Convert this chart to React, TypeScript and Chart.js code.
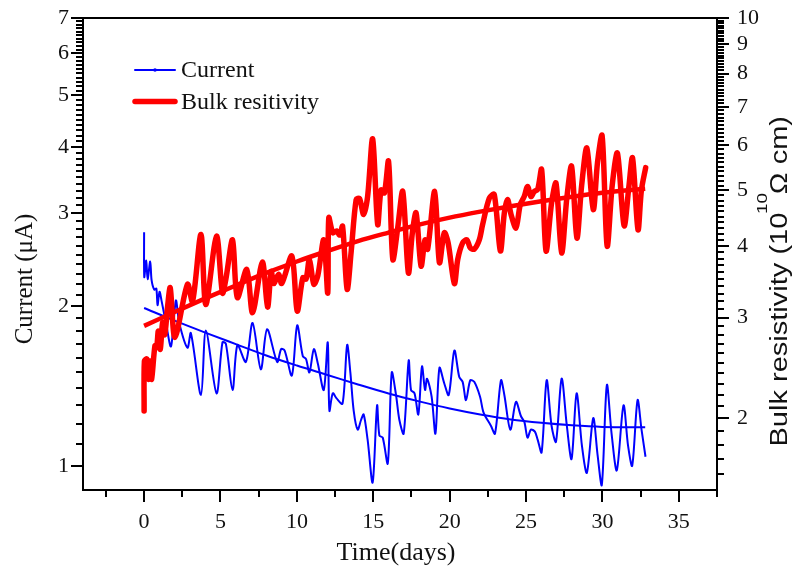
import React, { useEffect, useRef } from 'react';
import { Chart, registerables } from 'chart.js';

Chart.register(...registerables);

// ---- Data ----
const currentDays = [
  0, 0.01, 0.14, 0.23, 0.4, 0.49, 0.66, 0.8, 0.88, 1.01, 1.14, 1.43, 1.76, 2.08, 2.3, 2.84, 3.06, 3.72, 4.04, 4.74,
  5.13, 5.35, 5.79, 6.11, 6.66, 7.1, 7.64, 8.05, 8.71, 8.97, 9.2, 9.67, 10.02, 10.39, 10.6, 10.82, 11.11, 11.37, 11.76, 12.02,
  12.13, 12.35, 12.6, 12.99, 13.29, 13.5, 13.72, 13.98, 14.2, 14.37, 14.63, 14.96, 15.25, 15.4, 15.62, 15.95, 16.21, 16.49, 16.71, 16.99,
  17.32, 17.47, 17.7, 17.95, 18.19, 18.39, 18.52, 18.82, 19.07, 19.33, 19.65, 19.94, 20.31, 20.63, 20.85, 21.07, 21.35, 21.61, 21.99, 22.22,
  22.7, 22.97, 23.36, 23.58, 23.97, 24.34, 24.67, 24.89, 25.1, 25.32, 25.58, 25.76, 26.02, 26.35, 26.67, 26.96, 27.33, 27.67, 27.98, 28.31,
  28.66, 28.98, 29.4, 29.68, 29.96, 30.29, 30.6, 30.94, 31.38, 31.68, 31.95, 32.3, 32.56, 32.82,
];
const currentValues = [
  2.76, 2.27, 2.44, 2.25, 2.43, 2.24, 2.15, 2.16, 2.01, 2.13, 2.05, 1.86, 1.68, 2.05, 1.86, 1.67, 1.78, 1.36, 1.8, 1.37,
  1.71, 1.7, 1.39, 1.69, 1.57, 1.86, 1.52, 1.81, 1.57, 1.66, 1.65, 1.48, 1.84, 1.61, 1.59, 1.5, 1.66, 1.56, 1.39, 1.71,
  1.27, 1.37, 1.34, 1.31, 1.69, 1.5, 1.27, 1.17, 1.22, 1.25, 1.12, 0.93, 1.3, 1.14, 1.13, 1.01, 1.5, 1.36, 1.22, 1.15,
  1.58, 1.39, 1.37, 1.25, 1.54, 1.39, 1.46, 1.35, 1.15, 1.53, 1.43, 1.36, 1.65, 1.47, 1.44, 1.33, 1.45, 1.44, 1.35, 1.26,
  1.19, 1.15, 1.45, 1.36, 1.17, 1.32, 1.24, 1.21, 1.13, 1.17, 1.16, 1.12, 1.06, 1.45, 1.19, 1.11, 1.46, 1.19, 1.03, 1.37,
  1.09, 0.97, 1.23, 1.05, 0.92, 1.42, 1.15, 0.98, 1.3, 1.09, 1.0, 1.33, 1.17, 1.04,
];

const resistivityDays = [
  0, 0.02, 0.18, 0.29, 0.4, 0.49, 0.71, 0.82, 0.93, 1.06, 1.21, 1.35, 1.54, 1.71, 2.02, 2.84, 3.17, 3.72, 4.04, 4.74,
  5.13, 5.35, 5.79, 6.1, 6.72, 7.1, 7.74, 8.08, 8.32, 8.49, 8.8, 9.01, 9.67, 10.02, 10.39, 10.6, 10.82, 11.11, 11.37, 11.76,
  12.02, 12.09, 12.35, 12.6, 12.8, 12.99, 13.29, 13.55, 13.88, 14.1, 14.37, 14.63, 14.96, 15.29, 15.51, 15.73, 16.0, 16.28, 16.6, 16.93,
  17.3, 17.55, 17.8, 18.13, 18.39, 18.56, 19.02, 19.33, 19.65, 19.9, 20.31, 20.53, 20.85, 21.13, 21.35, 21.61, 21.94, 22.15, 22.6, 22.92,
  23.32, 23.58, 23.79, 24.01, 24.34, 24.62, 24.88, 25.1, 25.32, 25.54, 25.76, 26.02, 26.31, 26.67, 26.96, 27.33, 27.67, 27.98, 28.33, 28.64,
  28.98, 29.4, 29.68, 29.98, 30.31, 30.64, 30.98, 31.42, 31.74, 31.97, 32.33, 32.55, 32.83,
];
const resistivityValues = [
  2.06, 2.52, 2.54, 2.34, 2.52, 2.34, 2.68, 2.66, 2.84, 2.64, 2.94, 2.8, 3.14, 3.38, 2.77, 3.43, 3.2, 4.19, 3.16, 4.16,
  3.31, 3.5, 4.1, 3.25, 3.64, 3.06, 3.75, 3.13, 3.61, 3.44, 3.57, 3.44, 3.84, 3.08, 3.52, 3.5, 3.79, 3.43, 3.55, 4.1,
  3.31, 4.48, 4.22, 4.25, 4.18, 4.33, 3.36, 3.9, 4.82, 4.84, 4.54, 4.88, 6.15, 4.36, 5.01, 4.95, 5.62, 3.79, 4.3, 4.98,
  3.59, 4.2, 4.57, 3.69, 4.1, 3.95, 4.98, 3.74, 4.22, 4.05, 3.44, 3.79, 4.05, 4.1, 3.97, 3.95, 4.1, 4.35, 4.85, 4.92,
  3.92, 4.57, 4.82, 4.55, 4.3, 4.72, 4.88, 5.08, 4.88, 4.98, 5.02, 5.44, 3.92, 4.75, 5.15, 3.89, 4.85, 5.51, 4.13, 5.1,
  5.93, 4.63, 5.6, 6.23, 4.0, 5.1, 5.81, 4.34, 5.1, 5.7, 4.27, 5.0, 5.48,
];

const fitDays = [0, 2, 4, 6, 8, 10, 12, 14, 16, 18, 20, 22, 24, 26, 28, 30, 32.8];
const currentFit = [1.985, 1.879, 1.784, 1.697, 1.615, 1.546, 1.484, 1.424, 1.369, 1.323, 1.283, 1.25, 1.223, 1.205, 1.192, 1.184, 1.182];
const resistivityFit = [2.901, 3.068, 3.24, 3.413, 3.589, 3.758, 3.92, 4.08, 4.221, 4.359, 4.483, 4.592, 4.694, 4.789, 4.877, 4.955, 5.036];

const xTickLabels = [0, 5, 10, 15, 20, 25, 30, 35];
const leftTickLabels = [1, 2, 3, 4, 5, 6, 7];
const rightTickLabels = [2, 3, 4, 5, 6, 7, 8, 9, 10];

const legendLabels = ['Current', 'Bulk resitivity'];
const xTitle = 'Time(days)';
const leftTitle = 'Current (\u03bcA)';
const rightTitleParts = ['Bulk resistivity (10', '10', '\u03a9 cm)'];

const BLUE = '#0000ff';
const RED = '#ff0000';
const SERIF = '"Liberation Serif", "Times New Roman", serif';
const SANS = '"Liberation Sans", Arial, sans-serif';

const decorPlugin = {
  id: 'decor',
  afterDraw(chart: any) {
    const { ctx, chartArea: a, scales } = chart;
    const xs = scales.x;
    const yl = scales.y;
    const yr = scales.y1;
    ctx.save();
    ctx.strokeStyle = '#000';
    ctx.lineWidth = 2;
    ctx.strokeRect(a.left, a.top, a.right - a.left, a.bottom - a.top);
    ctx.beginPath();
    for (let i = -1; i <= 15; i++) {
      const px = Math.round(xs.getPixelForValue(i * 2.5));
      const len = i % 2 === 0 ? 12 : 7;
      ctx.moveTo(px, a.bottom);
      ctx.lineTo(px, a.bottom + len);
    }
    for (let i = 10; i <= 70; i++) {
      const py = Math.round(yl.getPixelForValue(i / 10));
      const len = i % 10 === 0 ? 12 : 7;
      ctx.moveTo(a.left, py);
      ctx.lineTo(a.left - len, py);
    }
    for (let i = 16; i <= 100; i++) {
      const py = Math.round(yr.getPixelForValue(i / 10));
      const len = i % 10 === 0 ? 12 : 7;
      ctx.moveTo(a.right, py);
      ctx.lineTo(a.right + len, py);
    }
    ctx.stroke();

    // legend
    ctx.lineCap = 'round';
    ctx.strokeStyle = BLUE;
    ctx.lineWidth = 2;
    ctx.beginPath();
    ctx.moveTo(135, 70);
    ctx.lineTo(175, 70);
    ctx.stroke();
    ctx.fillStyle = BLUE;
    ctx.beginPath();
    ctx.arc(155, 70, 1.8, 0, Math.PI * 2);
    ctx.fill();
    ctx.strokeStyle = RED;
    ctx.lineWidth = 5.5;
    ctx.beginPath();
    ctx.moveTo(135, 101.5);
    ctx.lineTo(175, 101.5);
    ctx.stroke();

    ctx.fillStyle = '#111';
    ctx.font = `24px ${SERIF}`;
    ctx.textAlign = 'left';
    ctx.textBaseline = 'alphabetic';
    ctx.fillText(legendLabels[0], 181, 77);
    ctx.fillText(legendLabels[1], 181, 109);

    // x title
    ctx.font = `26px ${SERIF}`;
    ctx.textAlign = 'center';
    ctx.fillText(xTitle, 396, 560);

    // left title
    ctx.save();
    ctx.translate(25, 279);
    ctx.rotate(-Math.PI / 2);
    ctx.font = `25px ${SERIF}`;
    ctx.textAlign = 'center';
    ctx.fillText(leftTitle, 0, 7);
    ctx.restore();

    // right title (with superscript)
    ctx.save();
    ctx.translate(779, 280);
    ctx.rotate(-Math.PI / 2);
    ctx.textAlign = 'left';
    ctx.font = `23px ${SANS}`;
    const w1 = ctx.measureText(rightTitleParts[0]).width;
    const w3 = ctx.measureText(rightTitleParts[2]).width;
    ctx.font = `15px ${SANS}`;
    const w2 = ctx.measureText(rightTitleParts[1]).width;
    const total = w1 + w2 + w3;
    const sx = 333 / total;
    ctx.scale(sx, 1);
    let u = -total / 2;
    ctx.font = `23px ${SANS}`;
    ctx.fillText(rightTitleParts[0], u, 8);
    u += w1;
    ctx.font = `15px ${SANS}`;
    ctx.fillText(rightTitleParts[1], u - 1, -12);
    u += w2;
    ctx.font = `23px ${SANS}`;
    ctx.fillText(rightTitleParts[2], u - 2, 8);
    ctx.restore();

    ctx.restore();
  },
};

export default function App() {
  const canvasRef = useRef<HTMLCanvasElement | null>(null);

  useEffect(() => {
    const canvas = canvasRef.current;
    if (!canvas) return;
    const tickFont = { family: SERIF, size: 22 };
    const noPad = (s: any) => {
      s.paddingTop = 0;
      s.paddingBottom = 0;
    };
    const chart = new Chart(canvas, {
      type: 'line',
      data: {
        datasets: [
          {
            label: 'Bulk resitivity fit',
            data: fitDays.map((d, i) => ({ x: d, y: resistivityFit[i] })),
            borderColor: RED,
            borderWidth: 4.5,
            pointRadius: 0,
            cubicInterpolationMode: 'monotone',
            yAxisID: 'y1',
            order: 0,
          },
          {
            label: legendLabels[1],
            data: resistivityDays.map((d, i) => ({ x: d, y: resistivityValues[i] })),
            borderColor: RED,
            borderWidth: 5.5,
            pointRadius: 0,
            tension: 0.3,
            borderJoinStyle: 'round',
            borderCapStyle: 'round',
            yAxisID: 'y1',
            order: 1,
          },
          {
            label: 'Current fit',
            data: fitDays.map((d, i) => ({ x: d, y: currentFit[i] })),
            borderColor: BLUE,
            borderWidth: 2,
            pointRadius: 0,
            cubicInterpolationMode: 'monotone',
            yAxisID: 'y',
            order: 2,
          },
          {
            label: legendLabels[0],
            data: currentDays.map((d, i) => ({ x: d, y: currentValues[i] })),
            borderColor: BLUE,
            borderWidth: 2,
            pointRadius: 0,
            tension: 0.3,
            borderJoinStyle: 'round',
            yAxisID: 'y',
            order: 3,
          },
        ],
      },
      options: {
        animation: false,
        responsive: false,
        events: [],
        layout: { padding: { top: 18, left: 0, right: 0, bottom: 0 } },
        plugins: { legend: { display: false }, tooltip: { enabled: false }, title: { display: false } },
        scales: {
          x: {
            type: 'linear',
            min: -4,
            max: 37.5,
            grid: { display: false, drawTicks: false },
            border: { display: false },
            afterBuildTicks: (s: any) => {
              s.ticks = xTickLabels.map((v) => ({ value: v }));
            },
            afterFit: (s: any) => {
              s.height = 78;
              s.paddingLeft = 0;
              s.paddingRight = 0;
            },
            ticks: {
              autoSkip: false,
              maxRotation: 0,
              padding: 19,
              color: '#111',
              font: tickFont,
              callback: (v: any) => String(v),
            },
          },
          y: {
            type: 'logarithmic',
            position: 'left',
            min: 0.9,
            max: 7,
            grid: { display: false, drawTicks: false },
            border: { display: false },
            afterBuildTicks: (s: any) => {
              s.ticks = leftTickLabels.map((v) => ({ value: v }));
            },
            afterFit: (s: any) => {
              s.width = 83;
              noPad(s);
            },
            ticks: {
              autoSkip: false,
              padding: 14,
              color: '#111',
              font: tickFont,
              callback: (v: any) => String(v),
            },
          },
          y1: {
            type: 'logarithmic',
            position: 'right',
            min: 1.5,
            max: 10,
            grid: { display: false, drawTicks: false },
            border: { display: false },
            afterBuildTicks: (s: any) => {
              s.ticks = rightTickLabels.map((v) => ({ value: v }));
            },
            afterFit: (s: any) => {
              s.width = 75;
              noPad(s);
            },
            ticks: {
              autoSkip: false,
              padding: 20,
              color: '#111',
              font: tickFont,
              callback: (v: any) => String(v),
            },
          },
        },
      },
      plugins: [decorPlugin],
    } as any);
    return () => chart.destroy();
  }, []);

  return (
    <div style={{ position: 'fixed', left: 0, top: 0, width: 792, height: 568, background: '#fff' }}>
      <canvas ref={canvasRef} width={792} height={568} style={{ width: 792, height: 568, display: 'block' }} />
    </div>
  );
}
